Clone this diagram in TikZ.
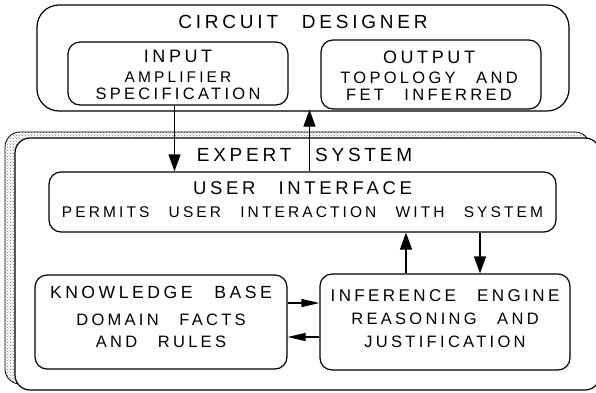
\documentclass[tikz,border=0pt]{standalone}
\usepackage{fontspec}
\setmainfont{Liberation Sans}[LetterSpace=20, WordSpace=2.6]
\usetikzlibrary{positioning, arrows.meta, shadows, patterns}

\tikzset{
  box/.style={draw, rounded corners=12pt, line width=1.2pt, inner sep=0pt, fill=white},
  arr/.style={-{Triangle[length=17pt,width=12pt]}, line width=1.2pt},
  sarr/.style={-{Triangle[length=18pt,width=8pt]}, line width=1.2pt},
  title/.style={font=\fontsize{19}{20}\selectfont},
  body/.style={align=center, font=\fontsize{16.5}{17}\selectfont},
}
\newcommand{\head}[2][18]{{\fontsize{#1}{#1}\selectfont #2}}

\begin{document}
\begin{tikzpicture}[x=1pt, y=-1pt]
\useasboundingbox (0,0) rectangle (596,392);

% circuit designer
\node (designer) [box, rounded corners=22pt, minimum width=532pt, minimum height=106pt] at (303,58) {};
\node (designertitle) [title] at (303,22) {CIRCUIT DESIGNER};
\node (input) [box, minimum width=220pt, minimum height=63pt] at (178,73.5) {};
\node (inputtext) [body] at (178,75.3) {\head{INPUT}\\[3pt] \head[15.5]{AMPLIFIER}\\ SPECIFICATION};
\node (output) [box, minimum width=220pt, minimum height=69pt] at (431,74.5) {};
\node (outputtext) [body] at (429,76) {\head{OUTPUT}\\[3pt] TOPOLOGY AND\\ FET INFERRED};

% expert system
\node (expert) [box, rounded corners=15pt, minimum width=585pt, minimum height=252pt,
  general shadow={shadow xshift=-10pt, shadow yshift=6pt, draw=black, line width=0.8pt,
    pattern=crosshatch dots, pattern color=black!55}] at (307.5,264) {};
\node (experttitle) [title] at (304.5,154.5) {EXPERT SYSTEM};
\node (ui) [box, minimum width=507pt, minimum height=60pt] at (302.5,202) {};
\node (uitext) [body] at (302.5,199.5)
  {\head[18.5]{USER INTERFACE}\\[6pt] {\fontsize{15.5}{17}\selectfont PERMITS USER INTERACTION WITH SYSTEM}};
\node (kb) [box, minimum width=252pt, minimum height=94pt] at (161,322) {};
\node (kbtext) [body] at (161,316.5) {\head[17.6]{KNOWLEDGE BASE}\\[10.5pt] DOMAIN FACTS\\[4.5pt] AND RULES};
\node (ie) [box, minimum width=250pt, minimum height=96pt] at (445,322) {};
\node (ietext) [body] at (445,319) {\head[17]{INFERENCE ENGINE}\\[6pt] REASONING AND\\[6pt] JUSTIFICATION};

% connectors
\draw[arr] ([xshift=-3.5pt]input.south) -- ([xshift=-3.5pt]input.south |- ui.north);
\draw[arr] ([xshift=7pt]ui.north) -- ([xshift=7pt]ui.north |- output.south);
\draw[arr] ([xshift=-39pt]ie.north) -- ([xshift=-39pt]ie.north |- ui.south);
\draw[arr] ([xshift=35pt]ie.north |- ui.south) -- ([xshift=35pt]ie.north);
\draw[sarr] ([yshift=19pt]kb.east) -- ([yshift=19pt]kb.east -| ie.west);
\draw[sarr] ([yshift=-15pt]ie.west) -- ([yshift=-15pt]ie.west -| kb.east);
\end{tikzpicture}
\end{document}
